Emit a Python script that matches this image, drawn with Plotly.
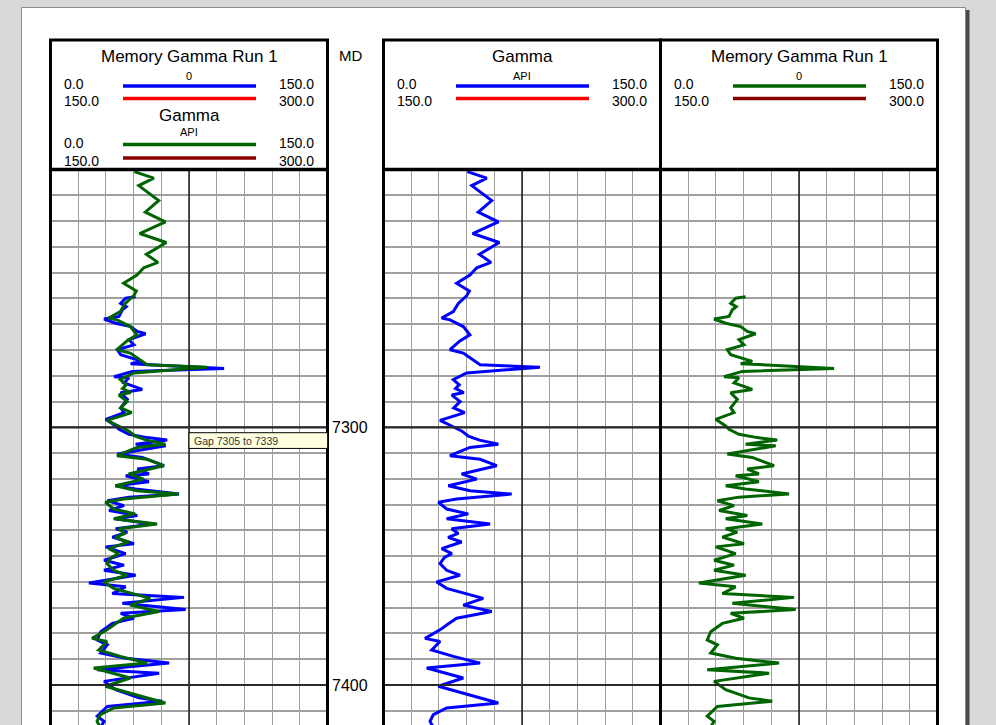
import plotly.graph_objects as go

W, H = 996, 725

# ---------------- data ----------------
GAMMA_DEPTH = [7200.8, 7203.3, 7206.2, 7212.0, 7216.5, 7220.3, 7224.8, 7228.3, 7232.9, 7236.0,
               7238.1, 7240.9, 7244.1, 7247.1, 7249.0, 7251.9, 7255.1, 7257.6, 7258.3, 7260.9,
               7264.1, 7266.5, 7269.9, 7271.2, 7275.7, 7276.7, 7278.9, 7281.5, 7283.5, 7285.0,
               7286.5, 7287.5, 7290.0, 7292.5, 7294.3, 7297.3, 7299.5, 7301.4,
               7303.4, 7305.0, 7306.6, 7307.8, 7311.0, 7312.4, 7314.9, 7318.1, 7320.1, 7322.7,
               7324.6, 7325.9, 7327.8, 7329.1, 7331.7, 7333.6, 7335.5, 7337.5, 7339.4, 7341.2,
               7342.7, 7344.5, 7347.1, 7349.0, 7350.5, 7352.9, 7355.5, 7357.4, 7360.0, 7362.5,
               7366.4, 7369.0, 7371.5, 7374.1, 7376.3, 7378.6, 7381.9, 7383.1, 7386.4, 7388.9,
               7391.5, 7393.4, 7397.3, 7400.5, 7407.0, 7408.9, 7411.5, 7414.1, 7416.5]
GAMMA_API = [45.4, 55.9, 47.8, 58.6, 51.3, 62.2, 48.3, 62.7, 51.9, 58.2,
             50.5, 46.8, 39.6, 46.5, 45.0, 40.5, 37.8, 31.5, 36.0, 43.2,
             46.8, 41.4, 36.0, 43.2, 52.3, 84.7, 45.0, 37.8, 41.0, 39.0,
             43.5, 37.0, 41.5, 38.0, 44.0, 30.6, 36.9, 42.3,
             45.9, 52.0, 62.2, 46.8, 36.0, 52.3, 61.3, 42.3, 50.5, 35.1,
             46.8, 69.4, 39.6, 29.7, 34.2, 45.9, 34.2, 57.7, 36.9, 40.5,
             35.0, 42.3, 31.5, 37.0, 33.0, 30.6, 34.2, 41.4, 28.8, 34.2,
             54.0, 43.2, 58.6, 39.6, 35.0, 30.6, 22.5, 30.6, 26.1, 37.8,
             52.3, 23.4, 43.2, 29.7, 62.2, 34.2, 27.0, 25.2, 27.0]

MEM_DEPTH = [7249.3, 7249.9, 7251.9, 7253.2, 7254.4, 7257.0, 7258.0, 7259.6, 7260.9, 7262.8,
             7263.7, 7266.0, 7268.0, 7269.9, 7271.8, 7273.1, 7274.4, 7275.3, 7277.2, 7278.3,
             7280.4, 7280.8, 7282.8, 7285.3, 7286.6, 7289.2, 7292.4, 7294.3, 7296.9, 7299.5,
             7300.8, 7302.7, 7304.0, 7304.9, 7306.6, 7307.2, 7310.4, 7311.7, 7314.9, 7316.2,
             7318.1, 7318.8, 7321.1, 7322.7, 7323.9, 7325.9, 7327.1, 7328.5, 7330.4, 7332.3,
             7334.2, 7335.5, 7337.5, 7339.4, 7340.7, 7342.6, 7345.2, 7346.4, 7349.0, 7351.6,
             7353.5, 7355.5, 7357.4, 7360.4, 7361.9, 7364.5, 7366.0, 7368.3, 7370.7, 7372.2,
             7374.1, 7376.1, 7379.3, 7382.5, 7384.4, 7387.6, 7389.6, 7391.5, 7394.1, 7395.4,
             7398.6, 7401.8, 7405.0, 7406.3, 7408.3, 7412.1, 7414.1, 7416.5]
MEM_API = [46.1, 40.7, 38.0, 41.0, 38.9, 37.1, 29.0, 35.3, 43.4, 47.0,
           51.5, 42.5, 45.2, 36.2, 38.0, 44.3, 49.7, 43.4, 94.0, 44.3,
           34.4, 42.5, 39.8, 49.7, 38.0, 41.6, 38.0, 39.8, 29.9, 35.3,
           37.1, 42.5, 52.4, 63.2, 46.1, 62.4, 36.2, 49.7, 61.5, 47.0,
           53.3, 40.7, 53.3, 35.3, 46.1, 69.6, 42.5, 30.8, 39.8, 31.7,
           47.0, 35.3, 55.1, 35.3, 41.6, 33.5, 45.2, 29.9, 40.7, 29.0,
           39.8, 29.0, 46.1, 20.8, 40.7, 33.5, 72.3, 38.9, 73.2, 38.0,
           45.2, 33.5, 27.2, 25.3, 30.8, 27.2, 40.7, 64.2, 25.3, 58.8,
           29.0, 35.3, 47.9, 60.5, 30.8, 25.3, 29.0, 27.0]

TRACK_TITLES = ["Memory Gamma Run 1", "Gamma", "Memory Gamma Run 1"]
TRACK_UNITS = ["0", "API", "0"]
SCALE_LEFT = ["0.0", "150.0"]
SCALE_RIGHT = ["150.0", "300.0"]
TRACK1_SECOND_TITLE = "Gamma"
TRACK1_SECOND_UNIT = "API"
DEPTH_LABELS = [7300, 7400]
MD_LABEL = "MD"
GAP_TEXT = "Gap 7305 to 7339"
GAP_RANGE = [7302.1, 7308.2]
X_RANGE = [0, 150]
TOP_DEPTH = 7200

# ---------------- layout geometry ----------------
PX_PER_FT = 2.577
TRACK_TOP = 169.6
HEADER_TOP = 40
BOTTOM_DEPTH = TOP_DEPTH + (H - TRACK_TOP) / PX_PER_FT
TRACKS = [(50.5, 327.5), (383.5, 660.5), (660.5, 937.5)]

BLUE, RED, GREEN, DRED = "#0000ff", "#ff0000", "#006400", "#8b0000"
FONT = "Liberation Sans, Arial, sans-serif"


def px(x):
    return x / W


def py(y):
    return 1 - y / H


fig = go.Figure()

# track 1: memory gamma (blue) beneath gamma (green)
fig.add_trace(go.Scatter(x=MEM_API, y=MEM_DEPTH, mode="lines", xaxis="x", yaxis="y",
                         line=dict(color=BLUE, width=3), hoverinfo="skip"))
fig.add_trace(go.Scatter(x=GAMMA_API, y=GAMMA_DEPTH, mode="lines", xaxis="x", yaxis="y",
                         line=dict(color=GREEN, width=3), hoverinfo="skip"))
# track 2: gamma (blue)
fig.add_trace(go.Scatter(x=GAMMA_API, y=GAMMA_DEPTH, mode="lines", xaxis="x2", yaxis="y",
                         line=dict(color=BLUE, width=3), hoverinfo="skip"))
# track 3: memory gamma (green)
fig.add_trace(go.Scatter(x=MEM_API, y=MEM_DEPTH, mode="lines", xaxis="x3", yaxis="y",
                         line=dict(color=GREEN, width=3), hoverinfo="skip"))

xax = dict(range=X_RANGE, dtick=15, tick0=0, showgrid=True, gridcolor="#a0a0a0", gridwidth=1.3,
           showticklabels=False, ticks="", zeroline=False, showline=False, fixedrange=True, anchor="y")

layout = dict(
    width=W, height=H, margin=dict(l=0, r=0, t=0, b=0),
    paper_bgcolor="#d9d9d9", plot_bgcolor="rgba(0,0,0,0)", showlegend=False,
    font=dict(family=FONT, color="black"),
    yaxis=dict(domain=[0, py(TRACK_TOP)], range=[BOTTOM_DEPTH, TOP_DEPTH], dtick=10, tick0=TOP_DEPTH,
               showgrid=True, gridcolor="#a0a0a0", gridwidth=2, showticklabels=False, ticks="",
               zeroline=False, showline=False, fixedrange=True, anchor="x"),
)
for i, (x0, x1) in enumerate(TRACKS):
    key = "xaxis" if i == 0 else f"xaxis{i + 1}"
    layout[key] = dict(xax, domain=[px(x0), px(x1)])
fig.update_layout(**layout)

shapes = []
# page
shapes.append(dict(type="rect", xref="paper", yref="paper", x0=px(966), x1=px(969.5), y0=py(10), y1=py(760),
                   fillcolor="#4a4a4a", line=dict(width=0), layer="below"))
shapes.append(dict(type="rect", xref="paper", yref="paper", x0=px(21.5), x1=px(965.5), y0=py(7.5), y1=py(760),
                   fillcolor="white", line=dict(color="#8a8a8a", width=1), layer="below"))

axis_names = ["x", "x2", "x3"]
for i, (x0, x1) in enumerate(TRACKS):
    ax = axis_names[i]
    y_top_paper = py(TRACK_TOP)
    # center line
    shapes.append(dict(type="line", xref=ax, yref="paper", x0=75, x1=75, y0=0, y1=y_top_paper,
                       line=dict(color="black", width=1.3)))
    # depth labelled lines
    for d in DEPTH_LABELS:
        shapes.append(dict(type="line", xref="paper", yref="y", x0=px(x0), x1=px(x1), y0=d, y1=d,
                           line=dict(color="#2a2a2a", width=2.2)))
    # frames
    shapes.append(dict(type="rect", xref="paper", yref="paper", x0=px(x0), x1=px(x1),
                       y0=py(HEADER_TOP), y1=py(770), line=dict(color="black", width=3)))
    shapes.append(dict(type="line", xref="paper", yref="paper", x0=px(x0), x1=px(x1),
                       y0=py(TRACK_TOP), y1=py(TRACK_TOP), line=dict(color="black", width=3.5)))

# gap box
shapes.append(dict(type="rect", xref="x", yref="y", x0=75, x1=150, y0=GAP_RANGE[0], y1=GAP_RANGE[1],
                   fillcolor="#ffffe0", line=dict(color="black", width=1)))

annotations = []


def text(x, y, s, size, anchor="center"):
    annotations.append(dict(x=px(x), y=py(y), xref="paper", yref="paper", text=s, showarrow=False,
                            xanchor=anchor, yanchor="middle", font=dict(size=size, family=FONT, color="black")))


def legend_block(x0, x1, y_title, y_unit, title, unit, y_row1, y_row2, c1, c2):
    cx = (x0 + x1) / 2
    text(cx, y_title, title, 17)
    text(cx, y_unit, unit, 11)
    text(x0 + 11.5, y_row1, SCALE_LEFT[0], 14, "left")
    text(x1 - 11.5, y_row1, SCALE_RIGHT[0], 14, "right")
    text(x0 + 11.5, y_row2, SCALE_LEFT[1], 14, "left")
    text(x1 - 11.5, y_row2, SCALE_RIGHT[1], 14, "right")
    for yy, c in ((y_row1 + 2, c1), (y_row2 - 2.5, c2)):
        shapes.append(dict(type="line", xref="paper", yref="paper", x0=px(x0 + 72.5), x1=px(x0 + 205.5),
                           y0=py(yy), y1=py(yy), line=dict(color=c, width=3.5)))


t1, t2, t3 = TRACKS
legend_block(*t1, 56.5, 75.5, TRACK_TITLES[0], TRACK_UNITS[0], 84, 101, BLUE, RED)
legend_block(*t1, 115.5, 131.5, TRACK1_SECOND_TITLE, TRACK1_SECOND_UNIT, 142.5, 160.5, GREEN, DRED)
legend_block(*t2, 56.5, 75.5, TRACK_TITLES[1], TRACK_UNITS[1], 84, 101, BLUE, RED)
legend_block(*t3, 56.5, 75.5, TRACK_TITLES[2], TRACK_UNITS[2], 84, 101, GREEN, DRED)

text(350.5, 55.5, MD_LABEL, 15)
for d in DEPTH_LABELS:
    annotations.append(dict(x=px(349.5), y=d, xref="paper", yref="y", text=str(d), showarrow=False,
                            xanchor="center", yanchor="middle", font=dict(size=16, family=FONT, color="black")))

annotations.append(dict(x=76.5, y=sum(GAP_RANGE) / 2, xref="x", yref="y", text=GAP_TEXT, showarrow=False,
                        xanchor="left", yanchor="middle", font=dict(size=10.5, family=FONT, color="#333333")))

fig.update_layout(shapes=shapes, annotations=annotations)

fig.write_html("out.html", config={"displayModeBar": False},
               post_script="document.body.style.margin='0';document.body.style.overflow='hidden';")
